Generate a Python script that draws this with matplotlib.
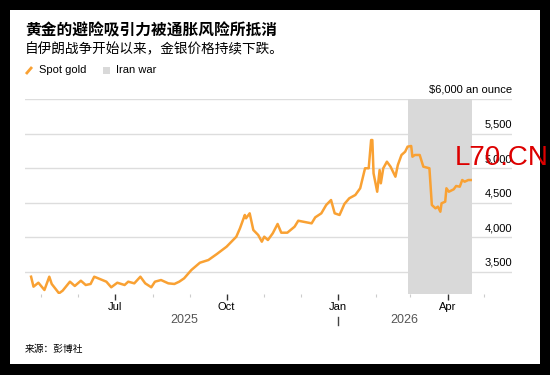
import pandas as pd
import matplotlib.pyplot as plt
import matplotlib.dates as mdates
import matplotlib.transforms as mtransforms
from matplotlib.patches import Rectangle
from matplotlib.lines import Line2D

# spot gold, $ per ounce
dates = ['2025-04-23', '2025-04-25', '2025-04-29', '2025-05-04', '2025-05-08', '2025-05-10',
         '2025-05-16', '2025-05-19', '2025-05-25', '2025-05-29', '2025-06-03', '2025-06-07',
         '2025-06-11', '2025-06-14', '2025-06-24', '2025-06-28', '2025-07-03', '2025-07-09',
         '2025-07-12', '2025-07-17', '2025-07-22', '2025-07-26', '2025-07-31', '2025-08-03',
         '2025-08-08', '2025-08-14', '2025-08-19', '2025-08-23', '2025-08-27', '2025-09-02',
         '2025-09-09', '2025-09-16', '2025-09-23', '2025-10-01', '2025-10-09', '2025-10-12',
         '2025-10-16', '2025-10-17', '2025-10-20', '2025-10-23', '2025-10-27', '2025-10-30',
         '2025-11-01', '2025-11-04', '2025-11-08', '2025-11-12', '2025-11-15', '2025-11-20',
         '2025-11-26', '2025-11-29', '2025-12-03', '2025-12-10', '2025-12-13', '2025-12-18',
         '2025-12-22', '2025-12-26', '2025-12-29', '2026-01-02', '2026-01-06', '2026-01-10',
         '2026-01-15', '2026-01-19', '2026-01-23', '2026-01-26', '2026-01-28', '2026-01-29',
         '2026-01-30', '2026-02-02', '2026-02-04', '2026-02-05', '2026-02-07', '2026-02-10',
         '2026-02-13', '2026-02-17', '2026-02-19', '2026-02-22', '2026-02-25', '2026-02-27',
         '2026-03-02', '2026-03-03', '2026-03-05', '2026-03-09', '2026-03-12', '2026-03-17',
         '2026-03-19', '2026-03-22', '2026-03-24', '2026-03-26', '2026-03-27', '2026-03-30',
         '2026-03-31', '2026-04-02', '2026-04-06', '2026-04-08', '2026-04-11', '2026-04-13',
         '2026-04-15', '2026-04-18', '2026-04-20']
gold = [3432, 3288, 3345, 3240, 3432, 3327,
        3192, 3230, 3360, 3298, 3374, 3312,
        3327, 3432, 3360, 3279, 3345, 3312,
        3360, 3336, 3432, 3336, 3279, 3360,
        3384, 3336, 3327, 3360, 3408, 3529,
        3634, 3673, 3760, 3866, 4010, 4131,
        4324, 4276, 4348, 4107, 4035, 3938,
        4010, 3962, 4059, 4194, 4068, 4068,
        4155, 4241, 4227, 4203, 4290, 4348,
        4468, 4540, 4348, 4324, 4483, 4565,
        4613, 4710, 4999, 4999, 5407, 5407,
        4926, 4660, 4974, 4782, 4999, 5094,
        5022, 4877, 5046, 5191, 5238, 5311,
        5321, 5166, 5191, 5191, 5022, 4999,
        4468, 4420, 4444, 4371, 4493, 4516,
        4710, 4660, 4695, 4743, 4733, 4829,
        4805, 4829, 4829]
war_start = '2026-02-27'
war_end = '2026-04-21'
yticks = [3500, 4000, 4500, 5000, 5500, 6000]

df = pd.DataFrame({'date': pd.to_datetime(dates), 'gold': gold})

W, H = 550, 375
fig = plt.figure(figsize=(W / 100, H / 100), dpi=100)
fig.patch.set_facecolor('black')
# white card
fig.add_artist(Rectangle((10 / W, 1 - 364 / H), 530 / W, 354 / H, transform=fig.transFigure,
                         facecolor='white', edgecolor='none', zorder=0))

latin = ['Liberation Sans', 'Noto Sans CJK SC']
cjk = ['Noto Sans CJK SC', 'DejaVu Sans']

def px(x, y):
    return x / W, 1 - y / H

ax = fig.add_axes([25 / W, 1 - 294 / H, 487 / W, 195 / H])
ax.set_facecolor('none')
for s in ax.spines.values():
    s.set_visible(False)

ax.axvspan(pd.Timestamp(war_start), pd.Timestamp(war_end), color='#d9d9d9', lw=0, zorder=1)
ax.plot(df['date'], df['gold'], color='#f9a133', lw=1.8, solid_joinstyle='round', zorder=3)

ax.set_xlim(pd.Timestamp('2025-04-18'), pd.Timestamp('2026-05-24'))
ax.set_ylim(3182, 6000)
ax.set_yticks(yticks)
ax.yaxis.grid(True, color='#dddddd', lw=1)
ax.set_axisbelow(True)
ax.tick_params(axis='y', length=0, labelleft=False)

# y labels sit above the grid lines on the right
off = mtransforms.offset_copy(ax.get_yaxis_transform(), fig=fig, x=0, y=3, units='points')
for v in yticks[:-1]:
    ax.text(1.0, v, f'{v:,}', transform=off, ha='right', va='bottom', fontsize=8, family=latin)
ax.text(1.0, 6000, '$6,000 an ounce', transform=off, ha='right', va='bottom', fontsize=8, family=latin)

ax.xaxis.set_major_locator(mdates.MonthLocator(bymonth=[1, 4, 7, 10]))
ax.xaxis.set_major_formatter(mdates.DateFormatter('%b'))
ax.xaxis.set_minor_locator(mdates.MonthLocator())
ax.tick_params(axis='x', which='major', length=4, width=1, color='#333333', pad=2, labelsize=8)
ax.tick_params(axis='x', which='minor', length=2, width=0.8, color='#cccccc')
for lab in ax.get_xticklabels():
    lab.set_family(latin)

# year labels centred on the data of each year
jan = pd.Timestamp('2026-01-01')
xtr = ax.get_xaxis_transform()
y25 = df['date'].iloc[0] + (jan - df['date'].iloc[0]) / 2
y26 = jan + (df['date'].iloc[-1] - jan) / 2
ax.text(y25, -0.135, '2025', transform=xtr, ha='center', va='center', fontsize=9,
        color='#555555', family=latin)
ax.text(y26, -0.135, '2026', transform=xtr, ha='center', va='center', fontsize=9,
        color='#555555', family=latin)
ax.add_line(Line2D([jan, jan], [-0.118, -0.158], transform=xtr, color='#444444', lw=1,
                   clip_on=False))

# titles
fig.text(*px(25, 30), '黄金的避险吸引力被通胀风险所抵消', fontsize=11.3, fontweight='bold',
         family=cjk, va='center')
fig.text(*px(25, 49), '自伊朗战争开始以来，金银价格持续下跌。', fontsize=9.8, family=cjk, va='center')

# legend
fig.add_artist(Line2D([26 / W, 32 / W], [1 - 74 / H, 1 - 67 / H], transform=fig.transFigure,
                      color='#f9a133', lw=2, solid_capstyle='butt'))
fig.text(*px(39, 70), 'Spot gold', fontsize=8, family=latin, va='center')
fig.add_artist(Rectangle((103 / W, 1 - 74 / H), 7 / W, 7 / H, transform=fig.transFigure,
                         facecolor='#d9d9d9', edgecolor='none'))
fig.text(*px(116, 70), 'Iran war', fontsize=8, family=latin, va='center')

fig.text(*px(25, 349), '来源：彭博社', fontsize=7, family=cjk, va='center')

# watermark
fig.text(*px(455, 158), 'L70.CN', fontsize=20, family=latin, color='#dd0000', va='center')

fig.savefig('out.png', dpi=100, facecolor=fig.get_facecolor())
